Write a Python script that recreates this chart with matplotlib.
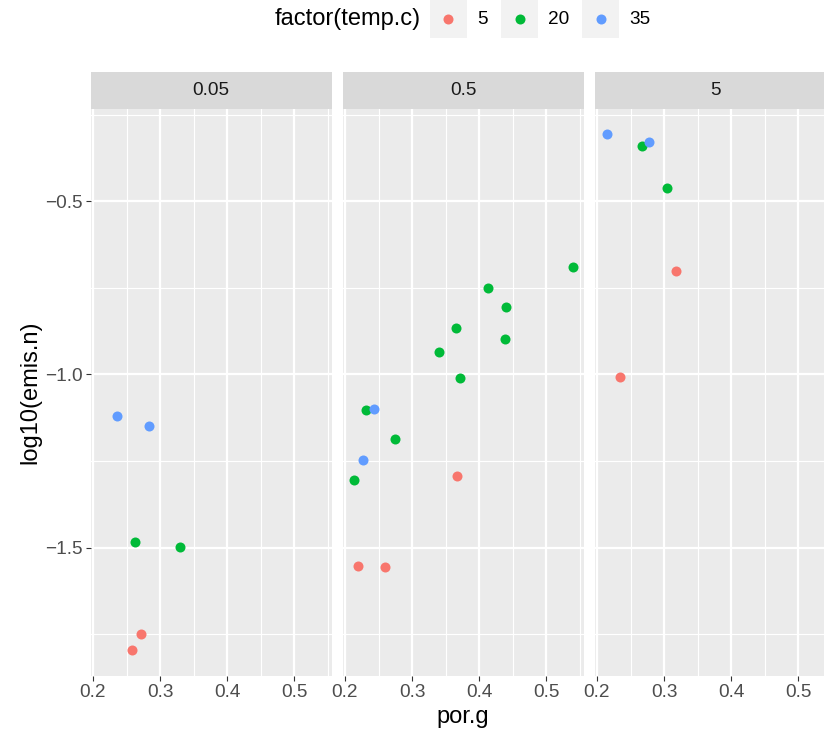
import numpy as np
import matplotlib
matplotlib.use("Agg")
import matplotlib.pyplot as plt
from matplotlib.patches import Rectangle
from matplotlib.lines import Line2D

plt.rcParams['font.family'] = ['Liberation Sans', 'DejaVu Sans']

# emission data, one entry per measurement
facet = ["0.05"] * 6 + ["0.5"] * 15 + ["5"] * 6
temp = [35, 35, 20, 20, 5, 5,
        20, 20, 20, 20, 20, 20, 20, 20, 20, 20, 35, 35, 5, 5, 5,
        35, 35, 20, 20, 5, 5]
por_g = [0.236, 0.284, 0.262, 0.329, 0.271, 0.258,
         0.539, 0.413, 0.440, 0.366, 0.439, 0.340, 0.372, 0.232, 0.275, 0.213,
         0.243, 0.227, 0.367, 0.220, 0.259,
         0.215, 0.278, 0.267, 0.304, 0.318, 0.234]
log_emis = [-1.120, -1.148, -1.484, -1.499, -1.748, -1.796,
            -0.690, -0.751, -0.805, -0.867, -0.897, -0.936, -1.011, -1.104, -1.187, -1.305,
            -1.101, -1.248, -1.293, -1.553, -1.557,
            -0.307, -0.329, -0.341, -0.461, -0.702, -1.007]

facet_levels = ["0.05", "0.5", "5"]
temp_levels = [5, 20, 35]
temp_colors = ["#F8766D", "#00BA38", "#619CFF"]

x_ticks = [0.2, 0.3, 0.4, 0.5]
x_minor = [0.25, 0.35, 0.45, 0.55]
y_ticks = [-0.5, -1.0, -1.5]
y_minor = [-0.25, -0.75, -1.25, -1.75]

facet = np.array(facet)
temp = np.array(temp)
por_g = np.array(por_g)
log_emis = np.array(log_emis)


def expand(v):
    lo, hi = v.min(), v.max()
    pad = 0.05 * (hi - lo)
    return lo - pad, hi + pad


xlim = expand(por_g)
ylim = expand(log_emis)

W, H = 824, 734
fig = plt.figure(figsize=(W / 100, H / 100), dpi=100)
fig.patch.set_facecolor("white")

panel_left = [90.7, 342.7, 594.7]
panel_w = 240.9
panel_top, panel_bot = 108.5, 676.0
strip_h = 36.5

small = 13.7
big = 17
grey_txt = "#4D4D4D"
for i, lev in enumerate(facet_levels):
    ax = fig.add_axes([panel_left[i] / W, (H - panel_bot) / H,
                       panel_w / W, (panel_bot - panel_top) / H])
    ax.set_facecolor("#EBEBEB")
    for s in ax.spines.values():
        s.set_visible(False)
    ax.set_xlim(*xlim)
    ax.set_ylim(*ylim)
    for v in x_minor:
        ax.axvline(v, color="white", lw=0.8, zorder=0.5)
    for v in y_minor:
        ax.axhline(v, color="white", lw=0.8, zorder=0.5)
    for v in x_ticks:
        ax.axvline(v, color="white", lw=1.6, zorder=0.6)
    for v in y_ticks:
        ax.axhline(v, color="white", lw=1.6, zorder=0.6)

    ax.set_xticks(x_ticks)
    ax.set_xticklabels([f"{v:.1f}" for v in x_ticks])
    ax.tick_params(axis="x", length=3.6, width=0.8, color="#333333",
                   labelsize=small, labelcolor=grey_txt, pad=2.2)
    if i == 0:
        ax.set_yticks(y_ticks)
        ax.set_yticklabels([f"\u2212{abs(v):.1f}" for v in y_ticks])
        ax.tick_params(axis="y", length=3.6, width=0.8, color="#333333",
                       labelsize=small, labelcolor=grey_txt, pad=2.2)
    else:
        ax.set_yticks([])

    sel = facet == lev
    for t, c in zip(temp_levels, temp_colors):
        m = sel & (temp == t)
        ax.scatter(por_g[m], log_emis[m], s=52, color=c, lw=0, zorder=3)

    # facet strip
    sh = strip_h / (panel_bot - panel_top)
    ax.add_patch(Rectangle((0, 1), 1, sh, transform=ax.transAxes,
                           facecolor="#D9D9D9", edgecolor="none", clip_on=False))
    ax.text(0.5, 1 + sh / 2, lev, transform=ax.transAxes, ha="center",
            va="center", fontsize=small, color="#1A1A1A")

# axis titles
fig.text((panel_left[0] + panel_left[2] + panel_w) / 2 / W, 1 - 717 / H, "por.g",
         ha="center", va="center", fontsize=big)
fig.text(30 / W, 1 - (panel_top + panel_bot) / 2 / H, "log10(emis.n)",
         rotation=90, ha="center", va="center", fontsize=big)

# legend on top
leg_y = 19
fig.text(275 / W, 1 - leg_y / H, "factor(temp.c)", ha="left", va="center",
         fontsize=big)
key_x = [430, 501, 582]
key_size = 37
for kx, t, c in zip(key_x, temp_levels, temp_colors):
    fig.patches.append(Rectangle((kx / W, 1 - (leg_y + key_size / 2) / H),
                                 key_size / W, key_size / H,
                                 transform=fig.transFigure,
                                 facecolor="#F2F2F2", edgecolor="none"))
    fig.lines.append(Line2D([(kx + key_size / 2) / W], [1 - leg_y / H],
                            transform=fig.transFigure, marker="o",
                            markersize=7.2, markerfacecolor=c,
                            markeredgewidth=0, linestyle="none"))
    fig.text((kx + key_size + 10) / W, 1 - leg_y / H, str(t), ha="left",
             va="center", fontsize=small)

fig.savefig("out.png", dpi=100)
